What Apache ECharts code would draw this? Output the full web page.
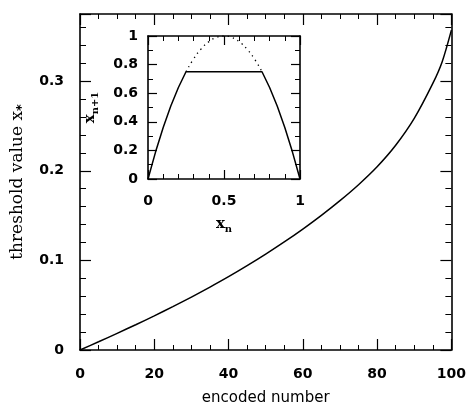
<!DOCTYPE html>
<html>
<head>
<meta charset="utf-8">
<script src="https://cdn.jsdelivr.net/npm/echarts@6/dist/echarts.min.js"></script>
<style>html,body{margin:0;padding:0;background:#fff;}#c{width:469px;height:411px;}</style>
</head>
<body>
<div id="c"></div>
<script>
// Main curve: encoded number vs threshold value x*
var encodedNumber = [0, 5, 10, 15, 20, 25, 30, 35, 40, 45, 50, 55, 60, 65, 70, 75, 80, 85, 90, 95, 97.5, 100];
var thresholdValue = [0, 0.0092, 0.0186, 0.0282, 0.0381, 0.0484, 0.0591, 0.0702, 0.0818, 0.0941, 0.107, 0.1206, 0.135, 0.1503, 0.1667, 0.1845, 0.2045, 0.2285, 0.2585, 0.2975, 0.3215, 0.357];
// Inset: map x_n -> x_{n+1}
var insetX = [0, 0.05, 0.1, 0.15, 0.2, 0.25, 0.3, 0.35, 0.4, 0.45, 0.5, 0.55, 0.6, 0.65, 0.7, 0.75, 0.8, 0.85, 0.9, 0.95, 1];
var fullMap = [0, 0.19, 0.36, 0.51, 0.64, 0.75, 0.84, 0.91, 0.96, 0.99, 1, 0.99, 0.96, 0.91, 0.84, 0.75, 0.64, 0.51, 0.36, 0.19, 0];
var clippedMap = [0, 0.19, 0.36, 0.51, 0.64, 0.75, 0.75, 0.75, 0.75, 0.75, 0.75, 0.75, 0.75, 0.75, 0.75, 0.75, 0.64, 0.51, 0.36, 0.19, 0];
var mainXTicks = [0, 20, 40, 60, 80, 100];
var mainYTicks = [0, 0.1, 0.2, 0.3];

var clippedPts = insetX.map(function (x, i) { return [x, clippedMap[i]]; });
var dottedPts = [];
insetX.forEach(function (x, i) { if (x >= 0.25 && x <= 0.75) dottedPts.push([x, fullMap[i]]); });
var mainPts = encodedNumber.map(function (x, i) { return [x, thresholdValue[i]]; });

var lineStyle = { color: '#000', width: 1.6 };
var lblFont = { color: '#000', fontFamily: 'DejaVu Sans', fontWeight: 'bold', fontSize: 14 };

function axisBase(extra) {
  var o = {
    axisLine: { show: true, onZero: false, lineStyle: lineStyle },
    splitLine: { show: false },
    axisTick: { show: true, inside: true, length: 11, lineStyle: { color: '#000', width: 1.2 } },
    minorTick: { show: true, length: 6, lineStyle: { color: '#000', width: 1 } }
  };
  for (var k in extra) o[k] = extra[k];
  return o;
}

var option = {
  animation: false,
  backgroundColor: '#fff',
  grid: [
    { left: 80, right: 17, top: 14, bottom: 56 },
    { left: 148, right: 169, top: 36, bottom: 232 }
  ],
  xAxis: [
    axisBase({ type: 'value', gridIndex: 0, min: 0, max: 100, interval: 20,
      minorTick: { show: true, splitNumber: 4, length: 5, lineStyle: { color: '#000', width: 1 } },
      axisLabel: Object.assign({ margin: 17, formatter: function (v) { return mainXTicks.indexOf(v) >= 0 ? String(v) : ''; } }, lblFont),
      name: 'encoded number', nameLocation: 'middle', nameGap: 41,
      nameTextStyle: { color: '#000', fontFamily: 'DejaVu Sans', fontSize: 15 } }),
    axisBase({ type: 'value', gridIndex: 0, position: 'top', min: 0, max: 100, interval: 20,
      minorTick: { show: true, splitNumber: 4, length: 5, lineStyle: { color: '#000', width: 1 } },
      axisLabel: { show: false } }),
    axisBase({ type: 'value', gridIndex: 1, min: 0, max: 1, interval: 0.5,
      axisTick: { show: true, inside: true, length: 9, lineStyle: { color: '#000', width: 1.2 } },
      minorTick: { show: true, splitNumber: 5, length: 5, lineStyle: { color: '#000', width: 1 } },
      axisLabel: Object.assign({ margin: 15 }, lblFont),
      name: '{a|x}{s|n}', nameLocation: 'middle', nameGap: 35,
      nameTextStyle: { rich: {
        a: { fontFamily: 'DejaVu Serif', fontWeight: 'bold', fontSize: 15, color: '#000' },
        s: { fontFamily: 'DejaVu Serif', fontWeight: 'bold', fontSize: 10, color: '#000', padding: [10, 0, 0, 0] } } } }),
    axisBase({ type: 'value', gridIndex: 1, position: 'top', min: 0, max: 1, interval: 0.5,
      axisTick: { show: true, inside: true, length: 9, lineStyle: { color: '#000', width: 1.2 } },
      minorTick: { show: true, splitNumber: 5, length: 5, lineStyle: { color: '#000', width: 1 } },
      axisLabel: { show: false } })
  ],
  yAxis: [
    axisBase({ type: 'value', gridIndex: 0, min: 0, max: 0.375, interval: 0.1,
      minorTick: { show: true, splitNumber: 5, length: 6, lineStyle: { color: '#000', width: 1 } },
      axisLabel: Object.assign({ margin: 16, showMaxLabel: false, formatter: function (v) {
        for (var i = 0; i < mainYTicks.length; i++) if (Math.abs(v - mainYTicks[i]) < 1e-9) return String(mainYTicks[i]);
        return ''; } }, lblFont),
      name: '{a|threshold value x}{s|*}', nameLocation: 'middle', nameGap: 46, nameRotate: 90,
      nameTextStyle: { rich: {
        a: { fontFamily: 'DejaVu Serif', fontSize: 17, color: '#000' },
        s: { fontFamily: 'DejaVu Sans', fontWeight: 'bold', fontSize: 13, color: '#000', padding: [8, 0, 0, 0] } } } }),
    axisBase({ type: 'value', gridIndex: 0, position: 'right', min: 0, max: 0.375, interval: 0.1,
      minorTick: { show: true, splitNumber: 5, length: 6, lineStyle: { color: '#000', width: 1 } },
      axisLabel: { show: false } }),
    axisBase({ type: 'value', gridIndex: 1, min: 0, max: 1, interval: 0.2,
      axisTick: { show: true, inside: true, length: 9, lineStyle: { color: '#000', width: 1.2 } },
      minorTick: { show: true, splitNumber: 2, length: 5, lineStyle: { color: '#000', width: 1 } },
      axisLabel: Object.assign({ margin: 10 }, lblFont),
      name: '{a|x}{s|n+1}', nameLocation: 'middle', nameGap: 48, nameRotate: 90,
      nameTextStyle: { rich: {
        a: { fontFamily: 'DejaVu Serif', fontWeight: 'bold', fontSize: 15, color: '#000' },
        s: { fontFamily: 'DejaVu Serif', fontWeight: 'bold', fontSize: 10, color: '#000', padding: [10, 0, 0, 0] } } } }),
    axisBase({ type: 'value', gridIndex: 1, position: 'right', min: 0, max: 1, interval: 0.2,
      axisTick: { show: true, inside: true, length: 9, lineStyle: { color: '#000', width: 1.2 } },
      minorTick: { show: true, splitNumber: 2, length: 5, lineStyle: { color: '#000', width: 1 } },
      axisLabel: { show: false } })
  ],
  series: [
    { type: 'line', xAxisIndex: 0, yAxisIndex: 0, data: mainPts, smooth: 0.3, showSymbol: false,
      lineStyle: { color: '#000', width: 1.5 } },
    { type: 'line', xAxisIndex: 2, yAxisIndex: 2, data: clippedPts, smooth: false, showSymbol: false,
      lineStyle: { color: '#000', width: 1.5 } },
    { type: 'line', xAxisIndex: 2, yAxisIndex: 2, data: dottedPts, smooth: true, showSymbol: false,
      lineStyle: { color: '#000', width: 1.3, type: [1.3, 4] } }
  ]
};
var chart = echarts.init(document.getElementById('c'), null, { renderer: 'canvas' });
chart.setOption(option);
</script>
</body>
</html>
